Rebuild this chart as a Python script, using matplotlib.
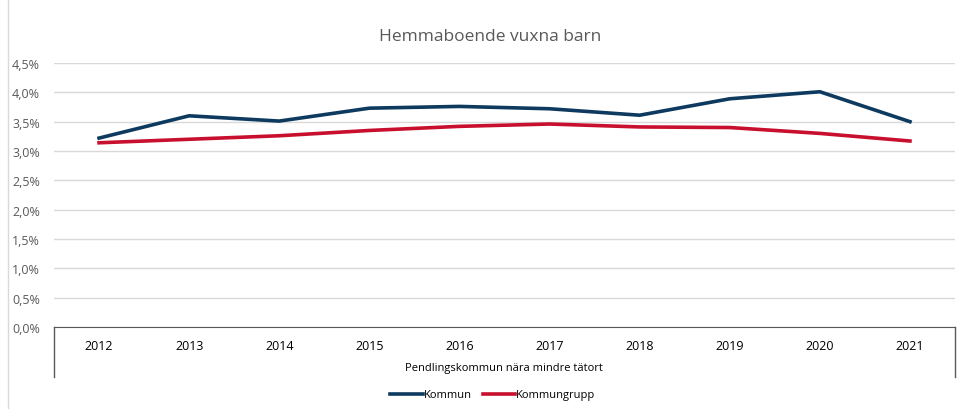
import matplotlib.pyplot as plt
from matplotlib.ticker import FuncFormatter
from matplotlib.lines import Line2D
from matplotlib.patches import Rectangle

plt.rcParams['font.family'] = ['Open Sans', 'DejaVu Sans']

years = ["2012", "2013", "2014", "2015", "2016", "2017", "2018", "2019", "2020", "2021"]
kommun = [3.22, 3.60, 3.51, 3.73, 3.76, 3.72, 3.61, 3.89, 4.01, 3.50]
kommungrupp = [3.14, 3.20, 3.26, 3.35, 3.42, 3.46, 3.41, 3.40, 3.30, 3.17]
group_label = "Pendlingskommun nära mindre tätort"

navy = "#0d3a5e"
red = "#c8102e"
W, H = 959, 410

fig = plt.figure(figsize=(W / 100, H / 100), dpi=100)
ax = fig.add_axes([54 / W, 1 - 328 / H, (955 - 54) / W, (328 - 64) / H])

x = range(len(years))
ax.plot(x, kommun, color=navy, lw=2.6, solid_joinstyle="round", label="Kommun")
ax.plot(x, kommungrupp, color=red, lw=2.6, solid_joinstyle="round", label="Kommungrupp")

ax.set_xlim(-0.5, len(years) - 0.5)
ax.set_ylim(0, 4.5)
ax.set_yticks([i * 0.5 for i in range(10)])
ax.yaxis.set_major_formatter(FuncFormatter(lambda v, p: f"{v:.1f}%".replace(".", ",")))
ax.grid(axis="y", color="#d9d9d9", lw=1)
ax.set_axisbelow(True)
for s in ["top", "right", "left"]:
    ax.spines[s].set_visible(False)
ax.spines["bottom"].set_color("#595959")
ax.tick_params(axis="y", length=0, labelsize=9, labelcolor="#595959", pad=10)
ax.set_xticks(list(x))
ax.set_xticklabels(years)
ax.tick_params(axis="x", length=0, labelsize=9, labelcolor="#000000", pad=9)

# category box lines
for xx in [54, 955]:
    fig.add_artist(Line2D([xx / W, xx / W], [1 - 328 / H, 1 - 378 / H], color="#595959", lw=1))
fig.text(504 / W, 1 - 369 / H, group_label, ha="center", va="center", fontsize=8)

fig.text(490 / W, 1 - 37 / H, "Hemmaboende vuxna barn", ha="center", va="center",
         fontsize=12.5, color="#595959")

fig.legend(loc="center", bbox_to_anchor=(493 / W, 1 - 396 / H), ncol=2, frameon=False,
           fontsize=8, handlelength=2.9, handletextpad=0.1, columnspacing=1.0)

fig.add_artist(Rectangle((8 / W, -0.01), 1.0, 1.02, fill=False, edgecolor="#d9d9d9", lw=1))

fig.savefig("out.png", dpi=100)
